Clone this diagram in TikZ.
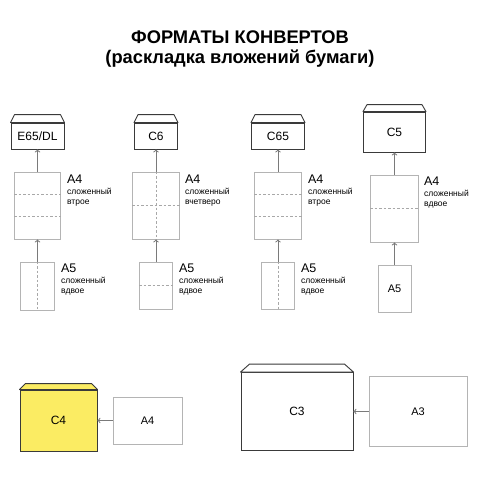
\documentclass[tikz,border=0pt]{standalone}
\usepackage{fontspec}
\setmainfont{Liberation Sans}
\usetikzlibrary{arrows,positioning,calc}
\definecolor{envline}{HTML}{3A3A3A}
\definecolor{paperline}{HTML}{B4B4B4}
\definecolor{arrowgray}{HTML}{7A7A7A}
\definecolor{foldgray}{HTML}{A8A8A8}
\definecolor{c4yellow}{HTML}{FBEC63}
\tikzset{
    envelope/.style={
        rectangle,
        draw=envline,
        line width=0.9pt,
        fill=white,
        inner sep=0pt,
        font=\fontsize{12}{14}\selectfont,
    },
    flap/.style={
        draw=envline,
        line width=0.9pt,
        line join=round,
    },
    paper/.style={
        rectangle,
        draw=paperline,
        line width=0.9pt,
        fill=white,
        inner sep=0pt,
        font=\fontsize{11}{13}\selectfont,
    },
    fold/.style={draw=foldgray, line width=0.7pt, dash pattern=on 2.5pt off 2pt},
    insert/.style={->, draw=arrowgray, line width=1pt},
    biglabel/.style={anchor=north west, inner sep=0pt, font=\fontsize{12.5}{14}\selectfont},
    smalllabel/.style={inner sep=0pt, align=left, font=\fontsize{8.5}{10}\selectfont},
}
\begin{document}
\begin{tikzpicture}[x=1pt,y=-1pt,>=to]
    \useasboundingbox[fill=white] (0,0) rectangle (480,480);

    \node[align=center, font=\fontsize{18.3}{20}\selectfont\bfseries] (title) at (240,49)
        {ФОРМАТЫ КОНВЕРТОВ\\(раскладка вложений бумаги)};

    % envelopes
    \node[envelope, minimum width=53, minimum height=26] (e65) at (37.5,136) {E65/DL};
    \node[envelope, minimum width=43, minimum height=26] (c6) at (156,136) {C6};
    \node[envelope, minimum width=53, minimum height=26] (c65) at (278,136) {C65};
    \node[envelope, minimum width=62, minimum height=40] (c5) at (394.5,132) {C5};
    \node[envelope, fill=c4yellow, minimum width=77, minimum height=61] (c4) at (58.5,420.5) {C4};
    \node[envelope, minimum width=112, minimum height=78] (c3) at (297,411.5) {C3};

    \foreach \env/\dx/\dy/\col in {e65/4/8/white, c6/4/8/white, c65/4/8/white,
                                   c5/4/7/white, c4/6/6/c4yellow, c3/9/8/white}
        \filldraw[flap, fill=\col] (\env.north west) -- ++(\dx,-\dy)
            -- ($(\env.north east)+(-\dx,-\dy)$) -- (\env.north east) -- cycle;

    % sheets
    \node[paper, minimum width=46, minimum height=67] (e65a4) at (37.5,205.5) {};
    \node[paper, minimum width=34, minimum height=48] (e65a5) at (37.5,286) {};
    \node[paper, minimum width=47, minimum height=67] (c6a4) at (156,205.5) {};
    \node[paper, minimum width=33, minimum height=47] (c6a5) at (156,285.5) {};
    \node[paper, minimum width=47, minimum height=67] (c65a4) at (278,205.5) {};
    \node[paper, minimum width=33, minimum height=47] (c65a5) at (278,285.5) {};
    \node[paper, minimum width=48, minimum height=67] (c5a4) at (394.5,208.5) {};
    \node[paper, minimum width=33, minimum height=47] (c5a5) at (394.5,288.5) {A5};
    \node[paper, minimum width=69, minimum height=47] (a4) at (147.5,420.5) {A4};
    \node[paper, minimum width=98, minimum height=70] (a3) at (418,411.5) {A3};

    % folds
    \foreach \s in {e65a4,c65a4}
        \foreach \f in {1/3,2/3}
            \draw[fold] ($(\s.north west)!\f!(\s.south west)$) -- ($(\s.north east)!\f!(\s.south east)$);
    \foreach \s in {c6a4,c6a5,c5a4}
        \draw[fold] (\s.west) -- (\s.east);
    \foreach \s in {e65a5,c6a4,c65a5}
        \draw[fold] (\s.north) -- (\s.south);

    % inserts
    \draw[insert] (e65a4) -- (e65);
    \draw[insert] (e65a5) -- (e65a4);
    \draw[insert] (c6a4) -- (c6);
    \draw[insert] (c6a5) -- (c6a4);
    \draw[insert] (c65a4) -- (c65);
    \draw[insert] (c65a5) -- (c65a4);
    \draw[insert] (c5a4) -- (c5);
    \draw[insert] (c5a5) -- (c5a4);
    \draw[insert] (a4) -- (c4);
    \draw[insert] (a3) -- (c3);

    % labels
    \node[biglabel] (e65a4t) at ($(e65a4.north east)+(6,3)$) {A4};
    \node[smalllabel, below=4pt of e65a4t.south west, anchor=north west] {сложенный\\втрое};
    \node[biglabel] (e65a5t) at ($(e65a5.north east)+(6,2)$) {A5};
    \node[smalllabel, below=4pt of e65a5t.south west, anchor=north west] {сложенный\\вдвое};
    \node[biglabel] (c6a4t) at ($(c6a4.north east)+(5,3)$) {A4};
    \node[smalllabel, below=4pt of c6a4t.south west, anchor=north west] {сложенный\\вчетверо};
    \node[biglabel] (c6a5t) at ($(c6a5.north east)+(6,2)$) {A5};
    \node[smalllabel, below=4pt of c6a5t.south west, anchor=north west] {сложенный\\вдвое};
    \node[biglabel] (c65a4t) at ($(c65a4.north east)+(6,3)$) {A4};
    \node[smalllabel, below=4pt of c65a4t.south west, anchor=north west] {сложенный\\втрое};
    \node[biglabel] (c65a5t) at ($(c65a5.north east)+(6,2)$) {A5};
    \node[smalllabel, below=4pt of c65a5t.south west, anchor=north west] {сложенный\\вдвое};
    \node[biglabel] (c5a4t) at ($(c5a4.north east)+(5,2)$) {A4};
    \node[smalllabel, below=4pt of c5a4t.south west, anchor=north west] {сложенный\\вдвое};
\end{tikzpicture}
\end{document}
